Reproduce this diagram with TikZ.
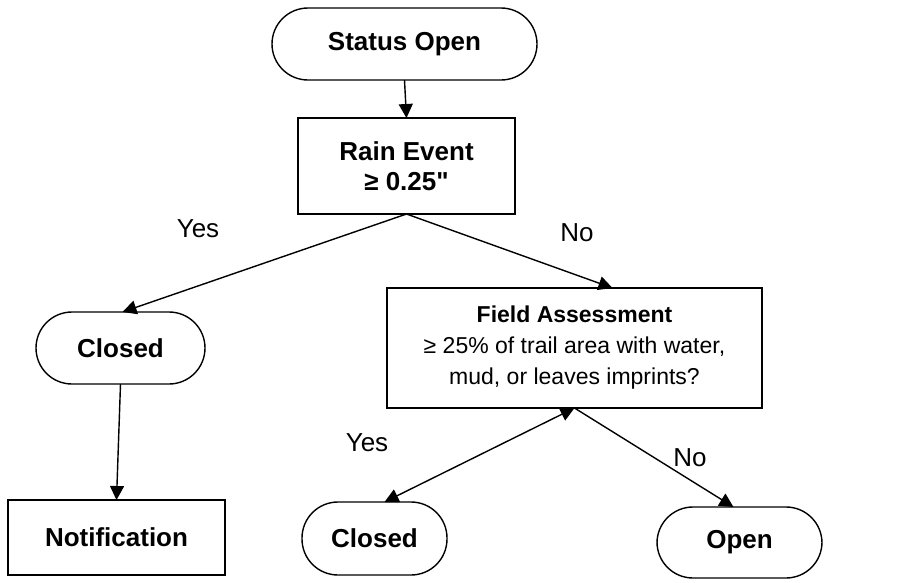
\documentclass[tikz,border=0pt]{standalone}
\usepackage{fontspec}
\setmainfont{Liberation Sans}[Ligatures=TeXOff]
\usetikzlibrary{arrows.meta}

\begin{document}
\begin{tikzpicture}[x=1pt, y=-1pt,
  every node/.style={inner sep=0pt, outer sep=0pt, align=center, font=\fontsize{26}{30}\selectfont},
  box/.style={draw, line width=1.4pt, font=\fontsize{26}{30}\selectfont\bfseries},
  term/.style={box, rounded corners=36pt},
  flow/.style={line width=1.4pt, -{Triangle[length=14pt,width=14pt]}}]
\useasboundingbox (0,0) rectangle (906,582);

\node[term, minimum width=265pt, minimum height=72pt] (status) at (404.5,44) {Status Open};
\node[box, minimum width=217pt, minimum height=96pt] (rain) at (406.5,166) {Rain Event\\≥ 0.25"};

\node[term, minimum width=169pt, minimum height=72pt] (closedA) at (120.5,348) {Closed};
\node[box, minimum width=217pt, minimum height=75pt] (notif) at (116.5,537.5) {Notification};

\node[box, minimum width=375pt, minimum height=120pt, font=\fontsize{23}{31}\selectfont] (field) at (574.5,348)
  {\textbf{Field Assessment}\\≥ 25\% of trail area with water,\\mud, or leaves imprints?};
\node[term, minimum width=145pt, minimum height=73pt] (closedB) at (374.5,538.5) {Closed};
\node[term, minimum width=165pt, minimum height=71pt] (open) at (739.5,542.5) {Open};

\node (yesA) at (198,229) {Yes};
\node (noA) at (577,233) {No};
\node (yesB) at (367,443) {Yes};
\node (noB) at (690,458) {No};

\draw[flow] (status.south) -- (rain.north);
\draw[flow] (rain.south) -- ([xshift=2pt]closedA.north);
\draw[flow] (rain.south) -- ([xshift=38pt]field.north);
\draw[flow] (closedA.south) -- (notif.north);
\draw[flow, {Triangle[length=14pt,width=14pt]}-{Triangle[length=14pt,width=14pt]}] (field.south) -- ([xshift=10pt]closedB.north);
\draw[flow] (field.south) -- ([xshift=-6pt]open.north);
\end{tikzpicture}
\end{document}
